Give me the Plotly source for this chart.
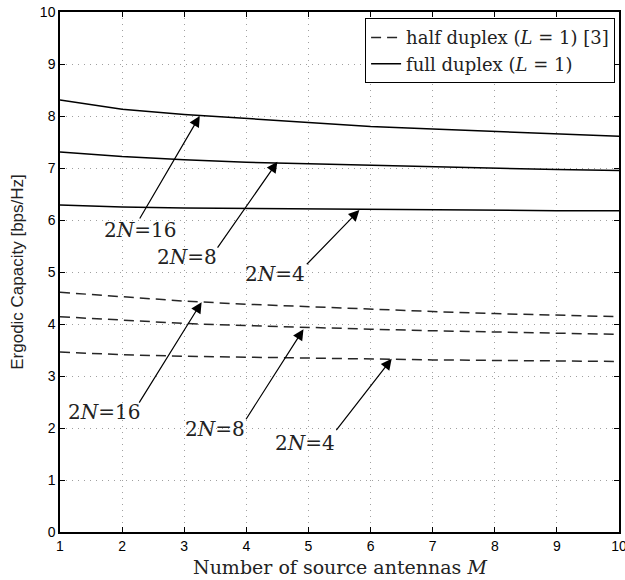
import plotly.graph_objects as go

M = [1, 2, 3, 4, 5, 6, 7, 8, 9, 10]

full_16 = [8.31, 8.13, 8.03, 7.95, 7.87, 7.80, 7.75, 7.70, 7.65, 7.61]
full_8 = [7.31, 7.22, 7.16, 7.11, 7.08, 7.05, 7.02, 7.00, 6.97, 6.95]
full_4 = [6.29, 6.25, 6.23, 6.22, 6.21, 6.20, 6.19, 6.19, 6.18, 6.18]

half_16 = [4.61, 4.52, 4.44, 4.38, 4.33, 4.28, 4.24, 4.20, 4.17, 4.14]
half_8 = [4.14, 4.07, 4.01, 3.97, 3.93, 3.90, 3.87, 3.85, 3.82, 3.80]
half_4 = [3.46, 3.41, 3.38, 3.36, 3.34, 3.33, 3.31, 3.30, 3.29, 3.28]

labels = ["2<i>N</i>=16", "2<i>N</i>=8", "2<i>N</i>=4"]
# arrow head (x, y), tail (x, y), label centre (x, y)
full_arrows = [
    ((3.25, 8.00), (2.27, 6.00), (2.29, 5.80)),
    ((4.50, 7.12), (3.52, 5.44), (3.04, 5.28)),
    ((5.82, 6.19), (4.95, 5.12), (4.46, 4.96)),
]
half_arrows = [
    ((3.28, 4.42), (2.26, 2.46), (1.71, 2.30)),
    ((4.92, 3.90), (3.98, 2.14), (3.50, 1.99)),
    ((6.34, 3.33), (5.43, 1.93), (4.95, 1.72)),
]

SERIF = "DejaVu Serif, Liberation Serif, serif"
SANS = "Liberation Sans, Arial, sans-serif"

fig = go.Figure()

half_series = [half_16, half_8, half_4]
full_series = [full_16, full_8, full_4]
for i, ys in enumerate(half_series):
    fig.add_trace(go.Scatter(
        x=M, y=ys, mode="lines",
        line=dict(color="#262626", width=1.5, dash="10px,6px"),
        name="half duplex (<i>L</i> = 1) [3]",
        legendgroup="half", showlegend=(i == 0)))
for i, ys in enumerate(full_series):
    fig.add_trace(go.Scatter(
        x=M, y=ys, mode="lines",
        line=dict(color="black", width=1.5),
        name="full duplex (<i>L</i> = 1)",
        legendgroup="full", showlegend=(i == 0)))

annotations = []
for group in (full_arrows, half_arrows):
    for lab, (head, tail, txt) in zip(labels, group):
        annotations.append(dict(
            x=head[0], y=head[1], ax=tail[0], ay=tail[1],
            xref="x", yref="y", axref="x", ayref="y",
            text="", showarrow=True, arrowhead=2, arrowsize=1.8,
            arrowwidth=1.2, arrowcolor="black", standoff=0, startstandoff=0))
        annotations.append(dict(
            x=txt[0], y=txt[1], xref="x", yref="y", text=lab,
            showarrow=False, font=dict(family=SERIF, size=20, color="#222")))

# x-axis title placed as a paper annotation so that it fits in the frame
annotations.append(dict(
    x=0.5, y=0, xref="paper", yref="paper", xanchor="center", yanchor="top",
    yshift=-22, showarrow=False, text="Number of source antennas <i>M</i>",
    font=dict(family=SERIF, size=19, color="#222")))

axis_common = dict(
    showline=True, linecolor="black", linewidth=1.5, mirror="ticks",
    ticks="inside", ticklen=5, tickcolor="black",
    showgrid=True, gridcolor="#a0a0a0", griddash="1px,5px", gridwidth=1,
    zeroline=False, automargin=False, ticklabeloverflow="allow",
    tickfont=dict(family=SANS, size=14, color="black"))

fig.update_layout(
    width=625, height=580,
    margin=dict(l=60, r=6, t=12, b=48),
    plot_bgcolor="white", paper_bgcolor="white",
    xaxis=dict(range=[1, 10], dtick=1, **axis_common),
    yaxis=dict(range=[0, 10], dtick=1, **axis_common,
               title=dict(text="Ergodic Capacity [bps/Hz]",
                          font=dict(family=SANS, size=17, color="#222"),
                          standoff=12)),
    legend=dict(x=0.993, y=0.988, xanchor="right", yanchor="top",
                bgcolor="white", bordercolor="black", borderwidth=1,
                font=dict(family=SERIF, size=18, color="#222"),
                tracegroupgap=0, itemwidth=30),
    annotations=annotations,
    showlegend=True,
)

# remove the default page margin so the figure fills the window exactly
fig.write_html("out.html", config={"displayModeBar": False},
               post_script="document.body.style.margin='0';")
